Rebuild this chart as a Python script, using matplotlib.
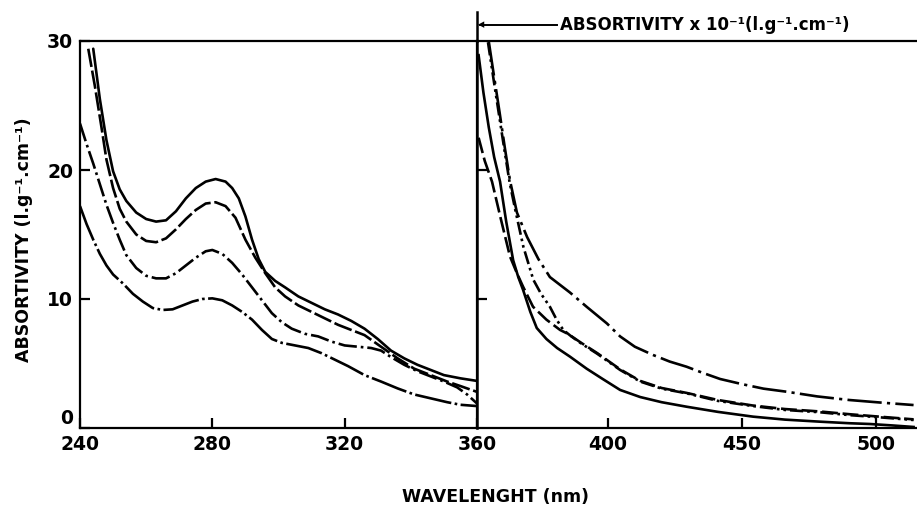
import matplotlib
matplotlib.use("Agg")
import matplotlib.pyplot as plt
from matplotlib.lines import Line2D

# ---------------- data ----------------
# Left panel: 240-360 nm, absorptivity (l.g-1.cm-1)
A_x = [244, 246, 248, 250, 252, 254, 257, 260, 263, 266, 269, 272, 275, 278, 281, 284, 286, 288, 290, 292, 294, 296, 299, 302, 306, 310, 314, 318, 322, 326, 330, 334, 338, 342, 346, 350, 355, 360]
A_y = [29.4, 25.5, 22.3, 19.9, 18.5, 17.6, 16.7, 16.2, 16.0, 16.1, 16.8, 17.8, 18.6, 19.1, 19.3, 19.1, 18.6, 17.8, 16.4, 14.6, 13.1, 12.1, 11.4, 10.9, 10.2, 9.7, 9.2, 8.8, 8.3, 7.7, 6.9, 6.0, 5.4, 4.9, 4.5, 4.1, 3.85, 3.65]

B_x = [242.5, 244.5, 246.5, 248, 250, 252, 254, 257, 260, 263, 266, 269, 272, 275, 278, 281, 284, 287, 290, 293, 296, 299, 302, 306, 310, 314, 318, 322, 326, 331, 336, 341, 346, 351, 355, 360]
B_y = [29.4, 26.5, 23.3, 20.8, 18.6, 17.0, 16.0, 15.0, 14.5, 14.4, 14.7, 15.4, 16.2, 16.9, 17.4, 17.5, 17.2, 16.3, 14.6, 13.2, 12.0, 10.9, 10.2, 9.5, 9.0, 8.5, 8.0, 7.6, 7.2, 6.3, 5.4, 4.6, 4.1, 3.6, 3.25, 2.8]

C_x = [240, 242, 244, 246, 248, 250, 252, 254, 257, 260, 263, 266, 269, 272, 275, 278, 280, 283, 286, 289, 292, 295, 298, 301, 304, 308, 312, 316, 320, 324, 328, 331, 334, 338, 342, 346, 350, 354, 357, 360]
C_y = [23.6, 22.0, 20.5, 18.9, 17.3, 15.9, 14.6, 13.4, 12.4, 11.8, 11.6, 11.6, 12.0, 12.6, 13.2, 13.7, 13.8, 13.5, 12.8, 11.9, 10.9, 9.9, 8.9, 8.2, 7.7, 7.3, 7.1, 6.7, 6.4, 6.3, 6.2, 6.0, 5.5, 4.9, 4.4, 4.0, 3.6, 3.15, 2.6, 1.9]

D_x = [240, 242, 244, 246, 248, 250, 253, 256, 259, 262, 265, 268, 271, 274, 277, 280, 283, 286, 289, 292, 295, 298, 301, 305, 309, 313, 317, 321, 326, 331, 336, 341, 346, 351, 355, 360]
D_y = [17.2, 15.8, 14.6, 13.5, 12.6, 11.9, 11.2, 10.4, 9.8, 9.3, 9.15, 9.2, 9.5, 9.8, 10.0, 10.05, 9.9, 9.5, 9.0, 8.4, 7.6, 6.9, 6.6, 6.4, 6.2, 5.8, 5.3, 4.8, 4.1, 3.6, 3.07, 2.6, 2.3, 2.0, 1.8, 1.7]

# Right panel: 360-520 nm, absorptivity x 10^-1
R1_x = [355.5, 357.5, 359.5, 361.5, 363.4, 366.0, 369.8, 374, 378.3, 385.8, 392, 399.6, 404.5, 410, 416.8, 423, 429.3, 435, 441.8, 450, 458, 466.7, 478, 490, 503, 514]
R1_y = [29.95, 27.2, 24.5, 21.7, 19.2, 16.7, 14.8, 13.1, 11.7, 10.5, 9.4, 8.1, 7.1, 6.3, 5.66, 5.15, 4.75, 4.3, 3.8, 3.4, 3.05, 2.81, 2.45, 2.17, 1.95, 1.78]

R2_x = [351.7, 353.5, 355.5, 357.5, 359.7, 362, 364.6, 366.5, 368.3, 371, 373.4, 377, 381, 385.8, 392, 398, 404.5, 412, 420, 429.3, 441, 454.1, 466, 479.1, 490, 497.7, 506, 514]
R2_y = [28.9, 26.0, 23.3, 21.0, 19.1, 16.0, 13.0, 11.7, 10.7, 9.0, 7.75, 6.9, 6.2, 5.53, 4.6, 3.8, 2.95, 2.4, 2.0, 1.65, 1.25, 0.88, 0.65, 0.49, 0.37, 0.31, 0.2, 0.08]

R3_x = [355.2, 357.3, 359.3, 361.3, 363.3, 365.5, 368.4, 372.1, 375, 378.3, 380.8, 383.3, 386, 390, 396, 404.5, 412, 420, 429.3, 441, 454.1, 466, 479.1, 490, 500, 514]
R3_y = [29.9, 27.0, 24.3, 21.6, 19.0, 16.8, 14.05, 11.5, 10.4, 9.4, 8.4, 7.6, 7.15, 6.55, 5.75, 4.5, 3.6, 3.05, 2.69, 2.1, 1.7, 1.4, 1.22, 1.0, 0.85, 0.62]

R4_x = [351.7, 354, 356.7, 360, 363.4, 366, 368.3, 372, 377, 382.1, 385, 390, 396, 404.5, 412, 420, 429.3, 441, 454.1, 466, 479.1, 490, 500, 514]
R4_y = [22.5, 20.7, 19.1, 16.2, 13.3, 12.0, 10.95, 9.4, 8.4, 7.6, 7.3, 6.6, 5.8, 4.55, 3.65, 3.1, 2.72, 2.17, 1.74, 1.47, 1.28, 1.07, 0.9, 0.67]

left_xticks = [240, 280, 320, 360]
right_xticks = [400, 450, 500]
yticks = [0, 10, 20, 30]

# ---------------- figure ----------------
W, H = 917, 507
fig = plt.figure(figsize=(W / 100, H / 100), dpi=100)
fig.patch.set_facecolor("white")

FONT = "DejaVu Sans"
def fx(px):
    return px / W
def fy(py):
    return 1 - py / H

y0, y30 = 428, 41
axL = fig.add_axes([fx(80), fy(y0), fx(477) - fx(80), fy(y30) - fy(y0)])
axR = fig.add_axes([fx(477), fy(y0), 1 - fx(477), fy(y30) - fy(y0)])

lw = 1.9
k = "black"
axL.plot(A_x, A_y, color=k, lw=lw, ls="-", solid_capstyle="round")
axL.plot(B_x, B_y, color=k, lw=lw, ls=(0, (7, 1.4)))
axL.plot(C_x, C_y, color=k, lw=lw, ls=(0, (7, 1.5, 1, 1.5)))
axL.plot(D_x, D_y, color=k, lw=lw, ls=(0, (14, 1.3, 1, 1.3)))

axR.plot(R1_x, R1_y, color=k, lw=lw, ls=(0, (13, 2, 1.2, 2)))
axR.plot(R2_x, R2_y, color=k, lw=lw, ls="-")
axR.plot(R3_x, R3_y, color=k, lw=lw, ls=(0, (5, 1.5, 1, 1.5, 1, 1.5)))
axR.plot(R4_x, R4_y, color=k, lw=lw, ls=(0, (6, 1.8)))

axL.set_xlim(240, 360)
axL.set_ylim(0, 30)
axR.set_xlim(351.1, 351.1 + 440 / 2.68)
axR.set_ylim(0, 30)

for ax in (axL, axR):
    for s in ax.spines.values():
        s.set_linewidth(1.6)
    ax.tick_params(direction="in", length=7, width=1.6, pad=5,
                   labelsize=13.5, top=False, right=False)

axR.spines["right"].set_visible(False)
axR.spines["left"].set_linewidth(1.8)

axL.set_xticks(left_xticks)
axL.set_xticklabels([str(v) for v in left_xticks], fontfamily=FONT, fontweight="bold", fontsize=13.5)
axL.set_yticks(yticks)
axL.set_yticklabels([str(v) for v in yticks], fontfamily=FONT, fontweight="bold", fontsize=13.5)
# the "0" label sits just above the bottom axis, as in the reference
axL.get_yticklabels()[0].set_verticalalignment("bottom")

axR.set_xticks(right_xticks)
axR.set_xticklabels([str(v) for v in right_xticks], fontfamily=FONT, fontweight="bold", fontsize=13.5)
axR.set_yticks([10, 20])
axR.set_yticklabels([])

# axis labels
fig.text(fx(24), fy(240), "ABSORTIVITY (l.g⁻¹.cm⁻¹)", rotation=90, ha="center", va="center",
         fontsize=12.5, fontweight="bold", fontfamily=FONT)
fig.text(fx(495), fy(497), "WAVELENGHT (nm)", ha="center", va="center",
         fontsize=12.5, fontweight="bold", fontfamily=FONT)

# separator line extending above top and arrow annotation
fig.add_artist(Line2D([fx(477), fx(477)], [fy(41), fy(12)], color=k, lw=1.8,
                      transform=fig.transFigure))
fig.add_artist(Line2D([fx(480), fx(557)], [fy(25), fy(25)], color=k, lw=1.4,
                      transform=fig.transFigure))
fig.text(fx(478), fy(25), "◂", ha="left", va="center", fontsize=9, fontfamily=FONT)
fig.text(fx(560), fy(25), "ABSORTIVITY x 10⁻¹(l.g⁻¹.cm⁻¹)", ha="left", va="center",
         fontsize=12, fontweight="bold", fontfamily=FONT)

fig.savefig("out.png", dpi=100, facecolor="white")
